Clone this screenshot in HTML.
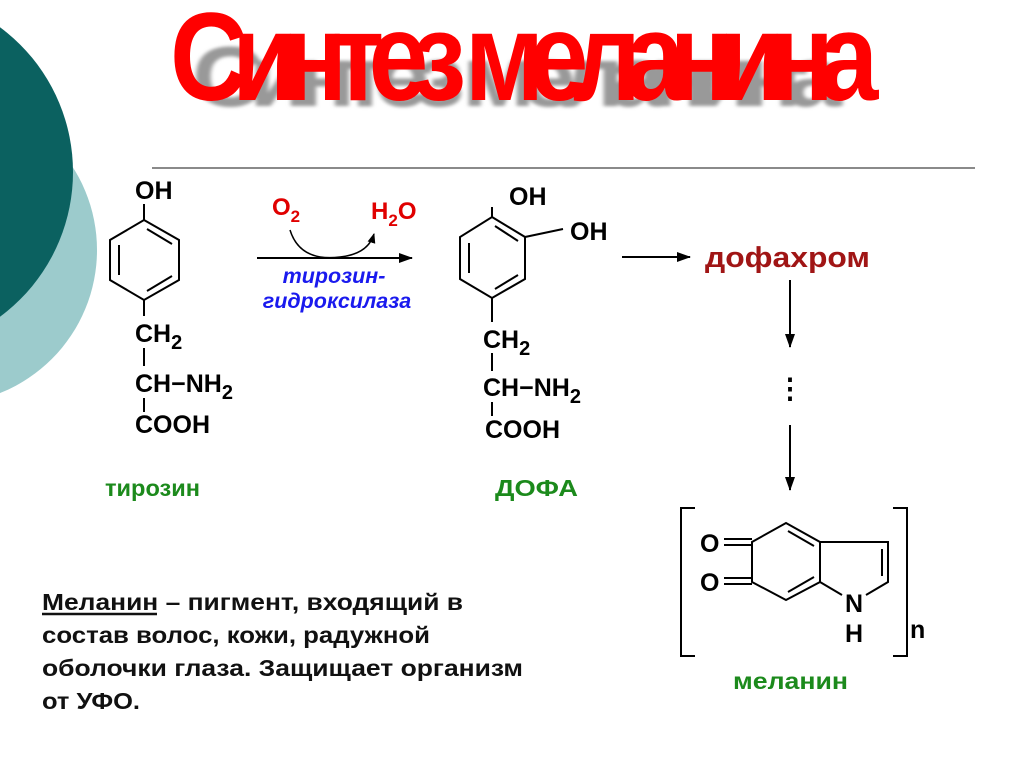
<!DOCTYPE html>
<html><head><meta charset="utf-8"><style>
html,body{margin:0;padding:0;background:#fff;}
svg{display:block;}
text{font-family:"Liberation Sans",Arial,sans-serif;font-weight:bold;}
</style></head><body>
<svg width="1024" height="767" viewBox="0 0 1024 767" xmlns="http://www.w3.org/2000/svg">
<defs><filter id="bl"><feGaussianBlur stdDeviation="2.5"/></filter>
<marker id="ah" markerWidth="10" markerHeight="8" refX="9" refY="4" orient="auto" markerUnits="userSpaceOnUse"><path d="M0,0 L10,4 L0,8 Z" fill="#000"/></marker>
<marker id="ah2" markerWidth="14" markerHeight="10" refX="13" refY="5" orient="auto" markerUnits="userSpaceOnUse"><path d="M0,0 L14,5 L0,10 Z" fill="#000"/></marker>
</defs>
<circle cx="-57" cy="250" r="154" fill="#9ccbcc"/>
<circle cx="-107" cy="172" r="180" fill="#0b6160"/>

<text transform="translate(192,106) scale(0.8,0.68)" font-size="125" letter-spacing="-19" fill="#999" filter="url(#bl)">Синтез меланина</text>
<text transform="translate(170,100) scale(0.86,1)" font-size="125" letter-spacing="-18.2" fill="#ff0000">Синтез меланина</text>

<line x1="152" y1="168" x2="975" y2="168" stroke="#444" stroke-width="1.2"/>

<g stroke="#000" stroke-width="2" fill="none">
<polygon points="144,220 179,240 179,280 144,300 110,280 110,240"/>
<line x1="119" y1="245" x2="119" y2="275"/><line x1="147" y1="229" x2="172" y2="244"/><line x1="147" y1="291" x2="172" y2="276"/>
<line x1="144" y1="204" x2="144" y2="220"/><line x1="144" y1="300" x2="144" y2="316"/>
<line x1="144" y1="348" x2="144" y2="366"/><line x1="144" y1="398" x2="144" y2="412"/>
<polygon points="492,217 525,237 525,279 492,298 460,279 460,237"/>
<line x1="469" y1="243" x2="469" y2="273"/><line x1="495" y1="226" x2="518" y2="241"/><line x1="495" y1="289" x2="518" y2="275"/>
<line x1="492" y1="207" x2="492" y2="217"/><line x1="525" y1="237" x2="563" y2="229"/>
<line x1="492" y1="298" x2="492" y2="322"/>
<line x1="492" y1="353" x2="492" y2="371"/><line x1="492" y1="402" x2="492" y2="416"/>
<line x1="257" y1="258" x2="412" y2="258" marker-end="url(#ah2)"/>
<path d="M290,230 Q300,262 340,257 Q368,254 374,234" stroke-width="1.5" marker-end="url(#ah)"/>
<line x1="622" y1="257" x2="690" y2="257" marker-end="url(#ah2)"/>
<line x1="790" y1="280" x2="790" y2="347" marker-end="url(#ah2)"/>
<line x1="790" y1="425" x2="790" y2="490" marker-end="url(#ah2)"/>
<polyline points="695,508 681,508 681,656 695,656"/>
<polyline points="893,508 907,508 907,656 893,656"/>
<polygon points="786,523 820,542 820,582 786,600 752,582 752,542"/>
<line x1="788" y1="531" x2="814" y2="546"/><line x1="788" y1="592" x2="814" y2="577"/>
<polyline points="820,542 888,542 888,582 866,595"/><line x1="820" y1="582" x2="842" y2="595"/>
<line x1="882" y1="549" x2="882" y2="576"/>
<line x1="724" y1="539" x2="752" y2="539"/><line x1="724" y1="545" x2="752" y2="545"/>
<line x1="724" y1="578" x2="752" y2="578"/><line x1="724" y1="584" x2="752" y2="584"/>
</g>
<text x="790" y="398" font-size="28" text-anchor="middle">⋮</text>

<g font-size="25" fill="#000">
<text x="135" y="199">OH</text>
<text x="135" y="342">CH<tspan font-size="20" dy="7">2</tspan></text>
<text x="135" y="392">CH−NH<tspan font-size="20" dy="7">2</tspan></text>
<text x="135" y="433">COOH</text>
<text x="509" y="205">OH</text>
<text x="570" y="240">OH</text>
<text x="483" y="348">CH<tspan font-size="20" dy="7">2</tspan></text>
<text x="483" y="396">CH−NH<tspan font-size="20" dy="7">2</tspan></text>
<text x="485" y="438">COOH</text>
<text x="700" y="552">O</text>
<text x="700" y="591">O</text>
<text x="845" y="612">N</text>
<text x="845" y="642">H</text>
<text x="910" y="638">n</text>
</g>
<text x="272" y="215" font-size="24" fill="#e00000">O<tspan font-size="17" dy="7">2</tspan></text>
<text x="371" y="219" font-size="24" fill="#e00000">H<tspan font-size="17" dy="7">2</tspan><tspan dy="-7">O</tspan></text>
<g font-size="21.5" fill="#1a1aee" font-style="italic" text-anchor="middle">
<text x="334" y="283">тирозин-</text>
<text x="337" y="308">гидроксилаза</text>
</g>
<text x="705" y="267" font-size="29" fill="#a01515" textLength="165" lengthAdjust="spacingAndGlyphs">дофахром</text>
<g font-size="23" fill="#1c8a1c">
<text x="105" y="496" textLength="95" lengthAdjust="spacingAndGlyphs">тирозин</text>
<text x="495" y="496" textLength="83" lengthAdjust="spacingAndGlyphs">ДОФА</text>
<text x="733" y="689" textLength="115" lengthAdjust="spacingAndGlyphs">меланин</text>
</g>
<g font-size="23.5" fill="#111">
<text x="42" y="610" textLength="421" lengthAdjust="spacingAndGlyphs">Меланин – пигмент, входящий в</text>
<text x="42" y="643" textLength="388" lengthAdjust="spacingAndGlyphs">состав волос, кожи, радужной</text>
<text x="42" y="676" textLength="481" lengthAdjust="spacingAndGlyphs">оболочки глаза. Защищает организм</text>
<text x="42" y="709" textLength="98" lengthAdjust="spacingAndGlyphs">от УФО.</text>
</g>
<line x1="42" y1="614" x2="157" y2="614" stroke="#111" stroke-width="2.5"/>
</svg>
</body></html>
